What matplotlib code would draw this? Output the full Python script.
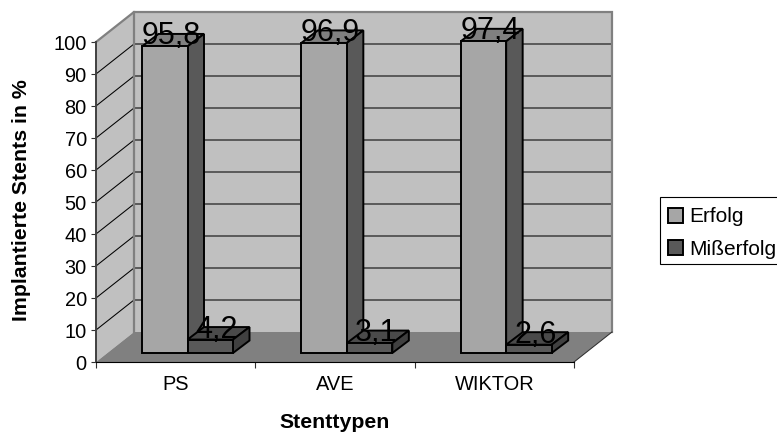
import matplotlib
matplotlib.use('Agg')
import matplotlib.pyplot as plt
from matplotlib.patches import Polygon, Patch, Rectangle

plt.rcParams['font.family'] = ['Liberation Sans', 'DejaVu Sans']

categories = ['PS', 'AVE', 'WIKTOR']
erfolg = [95.8, 96.9, 97.4]
misserfolg = [4.2, 3.1, 2.6]
yticks = list(range(0, 101, 10))
series_names = ['Erfolg', 'Mißerfolg']

W, H = 777, 434
# front plane of the 3d box in pixels
left, right, top, bottom = 96, 574, 42, 362

fig = plt.figure(figsize=(W / 100, H / 100), dpi=100)
ax = fig.add_axes([left / W, 1 - bottom / H, (right - left) / W, (bottom - top) / H])
ax.set_xlim(0, 3)
ax.set_ylim(0, 100)

# pixel to data helpers
ux = 3 / (right - left)
uy = 100 / (bottom - top)
DX, DY = 38 * ux, 30 * uy          # box depth
OX, OY = 11 * ux, 9 * uy           # gap in front of bars
BX, BY = 16.5 * ux, 12.5 * uy      # bar depth
BW = 45.5 * ux
GAP = 35 * ux

# walls and floor
ax.add_patch(Polygon([(DX, DY), (3 + DX, DY), (3 + DX, 100 + DY), (DX, 100 + DY)],
                     fc='#c0c0c0', ec='none', zorder=1, clip_on=False))
ax.add_patch(Polygon([(0, 0), (DX, DY), (DX, 100 + DY), (0, 100)],
                     fc='#c0c0c0', ec='none', zorder=1, clip_on=False))

for v in yticks[1:-1]:
    ax.plot([0, DX, 3 + DX], [v, v + DY, v + DY], color='black', lw=0.75, zorder=1.5,
            clip_on=False, solid_joinstyle='miter')

# grey frame of the walls
ax.plot([0, DX, 3 + DX, 3 + DX], [100, 100 + DY, 100 + DY, DY], color='#808080', lw=1.6,
        zorder=1.6, clip_on=False, solid_joinstyle='miter')
ax.plot([DX, DX], [DY, 100 + DY], color='#808080', lw=1.6, zorder=1.6, clip_on=False)

ax.add_patch(Polygon([(0, 0), (3, 0), (3 + DX, DY), (DX, DY)],
                     fc='#808080', ec='none', zorder=2, clip_on=False))
ax.plot([3, 3 + DX], [0, DY], color='#303030', lw=0.75, zorder=2, clip_on=False)


def draw_bar(x0, v, front, roof, side, z):
    y0 = OY
    y1 = OY + v
    ax.bar(x0, v, width=BW, bottom=y0, align='edge', color=front, edgecolor='black',
           linewidth=1.4, zorder=z + 0.2, clip_on=False)
    ax.add_patch(Polygon([(x0, y1), (x0 + BW, y1), (x0 + BW + BX, y1 + BY), (x0 + BX, y1 + BY)],
                         fc=roof, ec='black', lw=1.4, zorder=z, clip_on=False))
    ax.add_patch(Polygon([(x0 + BW, y0), (x0 + BW + BX, y0 + BY), (x0 + BW + BX, y1 + BY), (x0 + BW, y1)],
                         fc=side, ec='black', lw=1.4, zorder=z, clip_on=False))


for i in range(len(categories)):
    x1 = i + OX + GAP
    x2 = x1 + BW
    draw_bar(x1, erfolg[i], '#a6a6a6', '#808080', '#595959', 4 + i)
    draw_bar(x2, misserfolg[i], '#595959', '#4a4a4a', '#404040', 4.5 + i)
    for xb, v in ((x1, erfolg[i]), (x2, misserfolg[i])):
        ax.annotate(f'{v:.1f}'.replace('.', ','), xy=(xb + BW / 2, OY + v), xytext=(6.5, 2),
                    textcoords='offset pixels', ha='center', va='baseline',
                    fontsize=22, color='black', zorder=20, annotation_clip=False)

for s in ('top', 'right'):
    ax.spines[s].set_visible(False)
ax.spines['left'].set_color('#404040')
ax.spines['left'].set_linewidth(1.4)
ax.spines['left'].set_zorder(3)
ax.spines['bottom'].set_color('black')
ax.spines['bottom'].set_linewidth(0.8)
ax.spines['bottom'].set_zorder(3)

ax.set_yticks(yticks)
ax.set_xticks([0, 1, 2, 3])
ax.set_xticklabels([])
ax.set_xticks([0.5, 1.5, 2.5], categories, minor=True)
ax.tick_params(axis='y', length=3.6, width=0.8, labelsize=14.4, pad=3, color='#303030')
ax.tick_params(axis='x', which='major', length=4.3, width=0.8, color='#303030')
ax.tick_params(axis='x', which='minor', length=0, labelsize=14.4, pad=9.5)

ax.set_ylabel('Implantierte Stents in %', fontsize=15.3, fontweight='bold', va='center')
ax.yaxis.set_label_coords((22 - left) / (right - left), (bottom - 200) / (bottom - top))
ax.set_xlabel('Stenttypen', fontsize=15.3, fontweight='bold', va='center')
ax.xaxis.set_label_coords((335 - left) / (right - left), (bottom - 423) / (bottom - top))

# legend box runs off the right edge of the picture
fig.add_artist(Rectangle((660 / W, 1 - 264 / H), 125 / W, 67 / H, transform=fig.transFigure,
                         fc='white', ec='black', lw=0.8))
handles = [Patch(fc='#a6a6a6', ec='black', lw=1.4, label=series_names[0]),
           Patch(fc='#595959', ec='black', lw=1.4, label=series_names[1])]
fig.legend(handles=handles, loc='lower left', bbox_to_anchor=(668 / W, 1 - 259 / H),
           frameon=False, fontsize=15, handlelength=0.72, handleheight=0.72,
           handletextpad=0.29, borderpad=0, borderaxespad=0, labelspacing=0.65)

fig.savefig('out.png', dpi=100)
